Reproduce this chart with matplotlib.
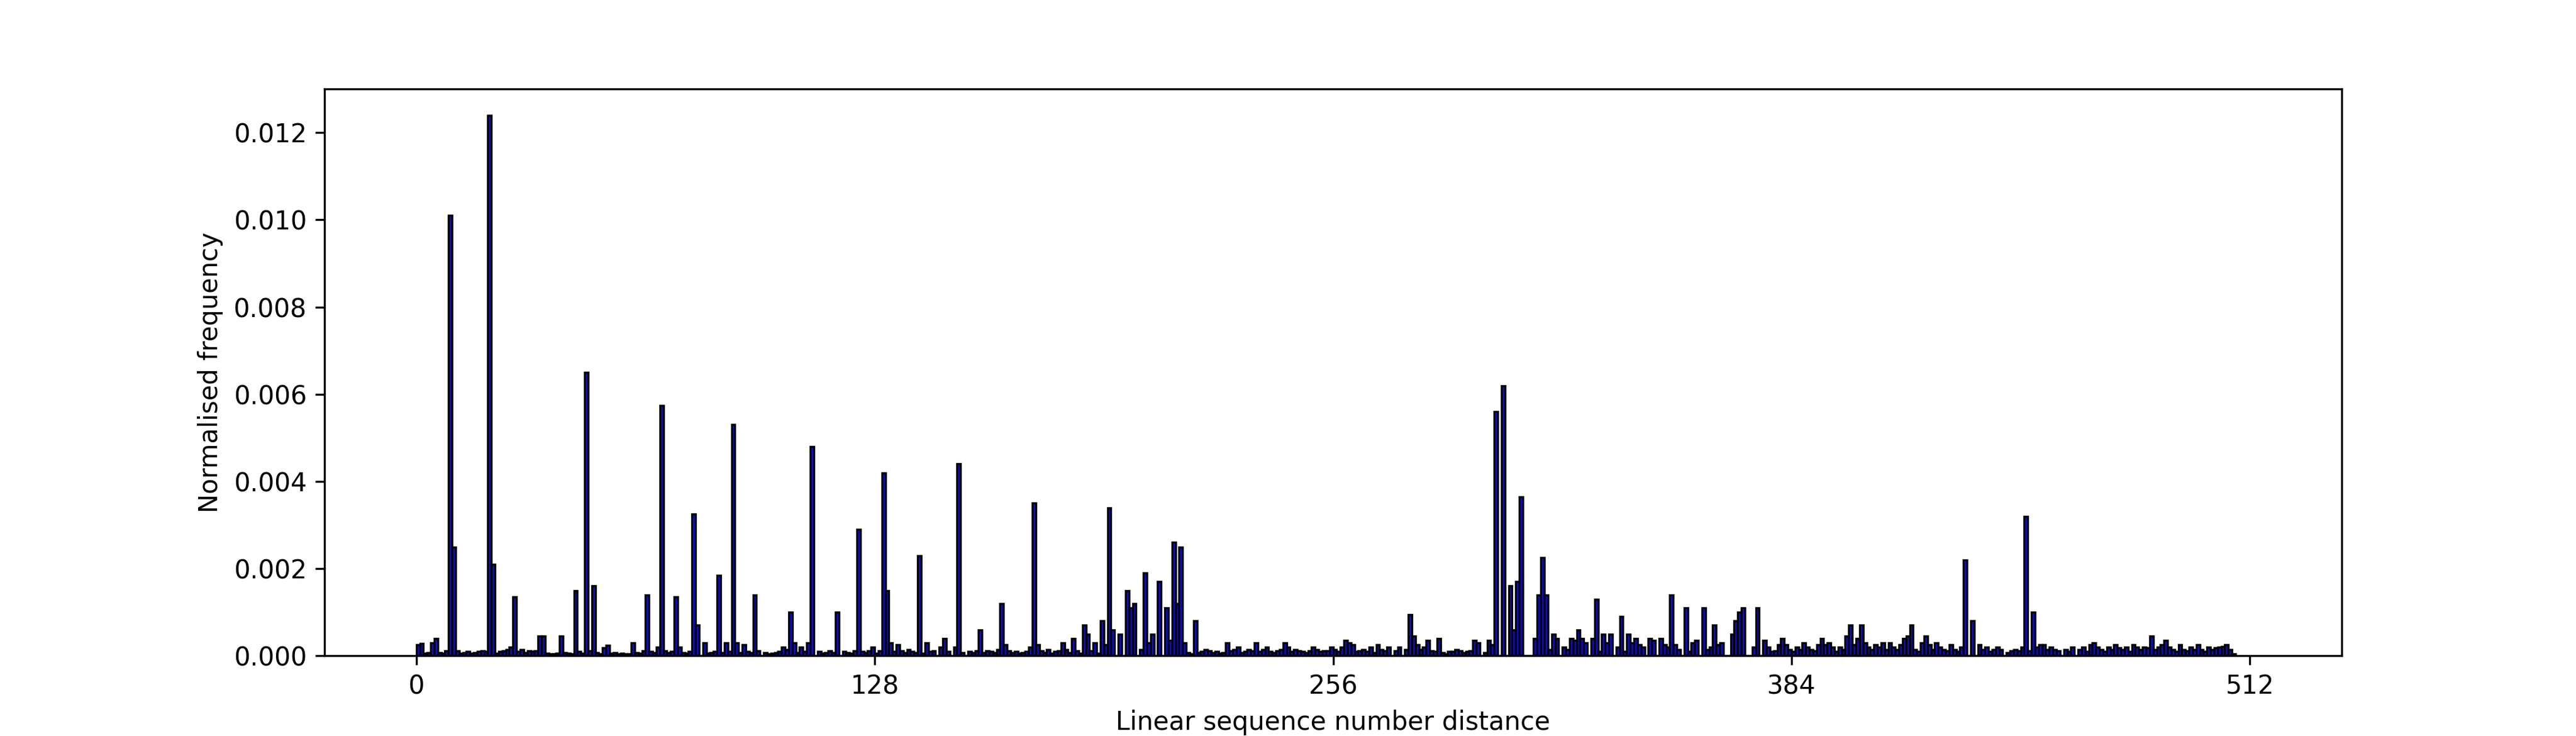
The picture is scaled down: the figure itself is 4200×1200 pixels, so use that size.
import matplotlib
matplotlib.use("Agg")
import matplotlib.pyplot as plt
import numpy as np

# baseline heights per distance bin, units of 1e-5 (16 rows x 32 bins)
BASELINE = [
    25, 28, 6, 8, 30, 40, 8, 6, 12, 0, 0, 12, 6, 8, 10, 6, 8, 10, 12, 10, 0, 0, 6, 10, 12, 14, 20, 0, 10, 14, 8, 12,
    10, 12, 45, 45, 6, 5, 4, 6, 45, 8, 6, 5, 0, 10, 6, 0, 12, 0, 8, 5, 18, 24, 6, 8, 5, 6, 4, 5, 30, 8, 6, 12,
    0, 10, 8, 20, 0, 12, 8, 10, 0, 20, 8, 6, 10, 0, 70, 0, 30, 6, 8, 10, 0, 8, 30, 10, 0, 30, 8, 25, 10, 8, 0, 12,
    0, 8, 4, 6, 8, 10, 20, 15, 0, 30, 8, 20, 10, 30, 0, 0, 10, 6, 8, 12, 8, 20, 0, 10, 8, 6, 12, 0, 10, 8, 12, 20,
    6, 12, 0, 0, 30, 10, 25, 12, 8, 15, 10, 8, 0, 6, 30, 10, 12, 0, 20, 40, 10, 0, 20, 12, 8, 0, 10, 8, 12, 60, 8, 12,
    10, 8, 15, 0, 25, 12, 8, 10, 6, 8, 10, 20, 0, 25, 12, 8, 15, 6, 10, 12, 30, 15, 8, 40, 12, 6, 10, 50, 12, 30, 6, 20,
    25, 0, 60, 0, 50, 0, 0, 0, 12, 0, 15, 0, 30, 0, 0, 0, 0, 0, 35, 25, 15, 10, 30, 8, 5, 6, 8, 10, 15, 12, 8, 10,
    6, 8, 30, 12, 15, 20, 8, 10, 15, 12, 30, 10, 15, 20, 10, 8, 12, 15, 30, 20, 10, 15, 12, 10, 8, 12, 20, 15, 10, 12,
    12, 20, 15, 10, 20, 35, 30, 25, 10, 12, 15, 10, 20, 8, 25, 15, 12, 20, 0, 12, 20, 0, 15, 0, 45, 25, 15, 20, 35, 12, 10, 40,
    8, 5, 10, 10, 15, 12, 8, 10, 12, 35, 30, 0, 8, 35, 25, 0, 0, 0, 0, 0, 0, 0, 0, 0, 0, 0, 40, 0, 30, 10, 15, 50,
    40, 0, 20, 15, 40, 35, 60, 40, 30, 0, 40, 25, 10, 50, 30, 50, 0, 20, 45, 10, 50, 30, 40, 25, 20, 0, 40, 35, 0, 40,
    25, 20, 60, 25, 15, 0, 20, 10, 30, 35, 0, 30, 15, 20, 0, 25, 30, 0, 0, 50, 65, 0, 0, 0, 0, 20, 15, 0, 35, 20, 10, 12,
    25, 40, 25, 15, 10, 20, 15, 30, 20, 15, 12, 25, 40, 25, 30, 20, 10, 20, 15, 45, 70, 25, 40, 70, 30, 20, 15, 25, 20, 30, 15, 30,
    20, 15, 25, 40, 45, 70, 15, 10, 30, 45, 25, 15, 30, 20, 15, 12, 25, 15, 10, 20, 15, 0, 80, 0, 25, 15, 20, 10, 15, 20, 15, 0,
    8, 12, 15, 12, 20, 15, 12, 10, 20, 25, 25, 15, 20, 15, 12, 0, 15, 10, 20, 0, 15, 20, 10, 25, 30, 20, 15, 10, 20, 15, 25, 18,
    15, 20, 10, 25, 20, 15, 20, 18, 45, 15, 20, 25, 35, 20, 15, 10, 25, 15, 12, 20, 15, 25, 15, 10, 20, 15, 18, 20, 22, 25, 15, 5,
]

# prominent peaks: bin -> normalised frequency
PEAK_BINS = [9, 10, 20, 21, 27, 44, 47, 49, 64, 68, 72, 77, 84, 88, 94, 104, 110,
             117, 123, 130, 131, 140, 151, 163, 172, 186, 191, 193, 198, 199, 200,
             203, 205, 207, 209, 211, 212, 213, 217, 277, 301, 303, 305, 306, 307,
             308, 313, 314, 315, 329, 336, 350, 354, 359, 362, 368, 369, 370, 374,
             432, 449, 451]
PEAK_VALUES = [0.0101, 0.0025, 0.0124, 0.0021, 0.00135, 0.0015, 0.0065, 0.0016,
               0.0014, 0.00575, 0.00135, 0.00325, 0.00185, 0.0053, 0.0014, 0.0010,
               0.0048, 0.0010, 0.0029, 0.0042, 0.0015, 0.0023, 0.0044, 0.0012,
               0.0035, 0.0007, 0.0008, 0.0034, 0.0015, 0.0011, 0.0012, 0.0019,
               0.0005, 0.0017, 0.0011, 0.0026, 0.0012, 0.0025, 0.0008, 0.00095,
               0.0056, 0.0062, 0.0016, 0.0006, 0.0017, 0.00365, 0.0014, 0.00225,
               0.0014, 0.0013, 0.0009, 0.0014, 0.0011, 0.0011, 0.0007, 0.0008,
               0.0010, 0.0011, 0.0011, 0.0022, 0.0032, 0.0010]

heights = np.array(BASELINE, dtype=float) * 1e-5
for b, v in zip(PEAK_BINS, PEAK_VALUES):
    heights[b] = v
bins = np.arange(len(heights))

fig, ax = plt.subplots(figsize=(14, 4), dpi=300)
ax.bar(bins, heights, width=1.0, align="edge", color="#1010c0",
       edgecolor="black", linewidth=0.8)
ax.set_xticks([0, 128, 256, 384, 512])
ax.set_xlim(-25.6, 537.6)
ax.set_ylim(0, 0.013)
ax.set_xlabel("Linear sequence number distance")
ax.set_ylabel("Normalised frequency")
fig.subplots_adjust(left=0.126, right=0.909, bottom=0.109, top=0.879)
fig.savefig("out.png")
